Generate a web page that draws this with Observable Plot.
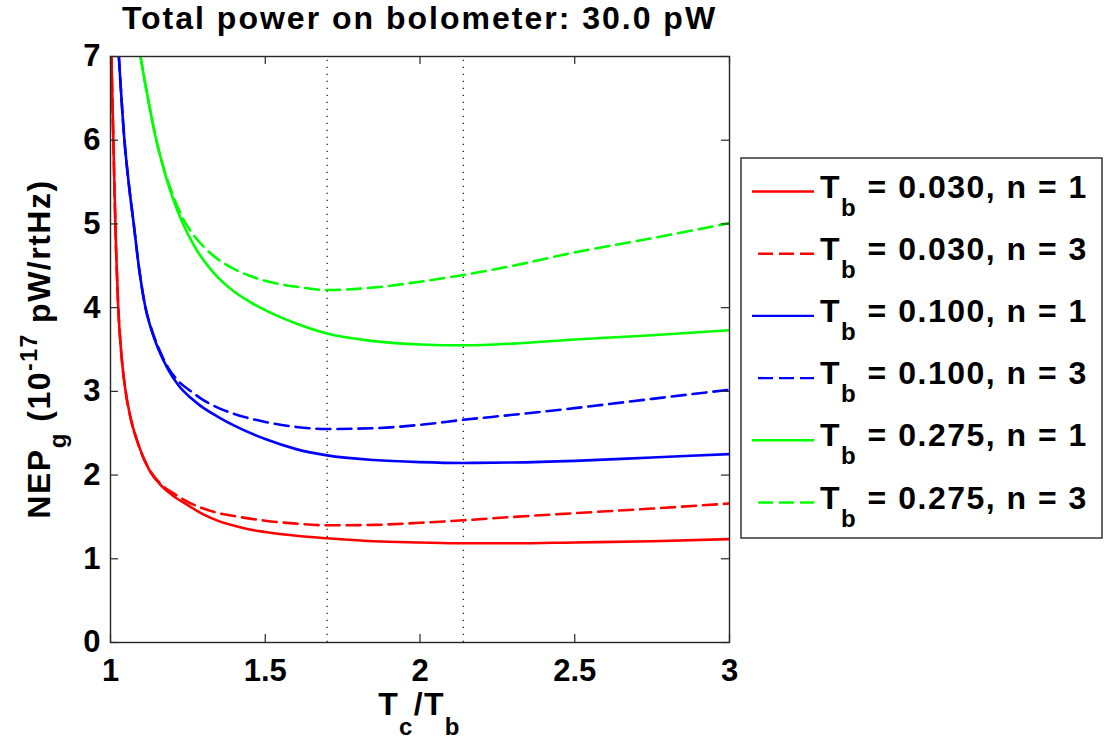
<!DOCTYPE html>
<html>
<head>
<meta charset="utf-8">
<script src="https://cdn.jsdelivr.net/npm/d3@7"></script>
<script src="https://cdn.jsdelivr.net/npm/@observablehq/plot@0.6"></script>
<style>
  html, body { margin: 0; padding: 0; background: #fff; }
  #chart svg { display: block; }
</style>
</head>
<body>
<div id="chart"></div>
<script>
// ---------- data ----------
const titleText = "Total power on bolometer: 30.0 pW";
const xTicks = [1, 1.5, 2, 2.5, 3];
const yTicks = [0, 1, 2, 3, 4, 5, 6, 7];
const dottedLines = [1.70, 2.14];

// [Tc/Tb, NEP_g]
const red_n1 = [[1.003,7.0],[1.008,6.2],[1.013,5.4],[1.018,4.7],[1.025,4.0],[1.035,3.45],[1.048,3.02],[1.065,2.68],[1.085,2.42],[1.105,2.22],[1.13,2.03],[1.16,1.89],[1.2,1.76],[1.25,1.64],[1.3,1.53],[1.35,1.45],[1.4,1.395],[1.45,1.35],[1.5,1.32],[1.6,1.275],[1.7,1.245],[1.85,1.21],[2.0,1.195],[2.14,1.185],[2.3,1.185],[2.5,1.195],[2.75,1.21],[3.0,1.235]];
const red_n3 = [[1.003,7.0],[1.008,6.2],[1.013,5.4],[1.018,4.7],[1.025,4.0],[1.035,3.45],[1.048,3.02],[1.065,2.68],[1.085,2.42],[1.105,2.22],[1.13,2.04],[1.16,1.90],[1.2,1.79],[1.25,1.68],[1.3,1.60],[1.35,1.545],[1.4,1.51],[1.45,1.48],[1.5,1.455],[1.6,1.42],[1.7,1.40],[1.85,1.405],[2.0,1.43],[2.14,1.46],[2.3,1.50],[2.5,1.545],[2.75,1.60],[3.0,1.66]];
const blue_n1 = [[1.027,7.0],[1.045,6.0],[1.06,5.45],[1.075,5.0],[1.093,4.45],[1.113,4.0],[1.13,3.76],[1.155,3.50],[1.185,3.27],[1.22,3.07],[1.26,2.92],[1.29,2.83],[1.35,2.69],[1.4,2.59],[1.5,2.43],[1.6,2.31],[1.7,2.235],[1.85,2.18],[2.0,2.155],[2.14,2.145],[2.3,2.15],[2.5,2.17],[2.75,2.21],[3.0,2.25]];
const blue_n3 = [[1.027,7.0],[1.045,6.0],[1.06,5.45],[1.075,5.0],[1.093,4.45],[1.113,4.0],[1.13,3.77],[1.155,3.52],[1.185,3.29],[1.22,3.12],[1.26,3.00],[1.29,2.92],[1.35,2.80],[1.4,2.73],[1.5,2.635],[1.6,2.575],[1.7,2.55],[1.85,2.56],[2.0,2.60],[2.14,2.66],[2.3,2.72],[2.5,2.80],[2.75,2.91],[3.0,3.02]];
const green_n1 = [[1.097,7.0],[1.11,6.72],[1.125,6.42],[1.145,6.05],[1.17,5.68],[1.2,5.32],[1.232,5.02],[1.27,4.74],[1.323,4.46],[1.35,4.35],[1.4,4.19],[1.45,4.07],[1.5,3.97],[1.6,3.81],[1.7,3.69],[1.85,3.60],[2.0,3.56],[2.14,3.55],[2.3,3.57],[2.5,3.62],[2.75,3.67],[3.0,3.73]];
const green_n3 = [[1.097,7.0],[1.11,6.72],[1.125,6.42],[1.145,6.05],[1.17,5.69],[1.2,5.36],[1.232,5.08],[1.27,4.86],[1.323,4.65],[1.35,4.57],[1.4,4.46],[1.45,4.38],[1.5,4.32],[1.6,4.25],[1.7,4.21],[1.85,4.24],[2.0,4.31],[2.14,4.39],[2.3,4.50],[2.5,4.66],[2.75,4.83],[3.0,5.01]];

const seriesData = [red_n1, red_n3, blue_n1, blue_n3, green_n1, green_n3];
const seriesTb = ["0.030", "0.030", "0.100", "0.100", "0.275", "0.275"];
const seriesN = [1, 3, 1, 3, 1, 3];
const seriesColors = ["#ff0000", "#ff0000", "#0000ff", "#0000ff", "#00ff00", "#00ff00"];

// ---------- chart ----------
const W = 1109, H = 744;
const FONT = "'Liberation Sans', Arial, Helvetica, sans-serif";
const dashPattern = "14,7";
const axisColor = "#262626";

const lineMarks = seriesData.map((d, i) =>
  Plot.line(d, {
    x: p => p[0], y: p => p[1],
    stroke: seriesColors[i], strokeWidth: 2.6,
    strokeDasharray: seriesN[i] === 3 ? dashPattern : null,
    curve: "monotone-x", clip: true
  })
);

const chart = Plot.plot({
  width: W, height: H,
  marginLeft: 110, marginRight: 380, marginTop: 56, marginBottom: 102,
  style: { fontFamily: FONT, fontSize: "31px", fontWeight: "bold", color: "black", background: "white" },
  x: { domain: [1, 3] },
  y: { domain: [0, 7] },
  marks: [
    Plot.ruleX(dottedLines, { x: d => d, y1: 0, y2: 7, stroke: "#222", strokeWidth: 1.3, strokeDasharray: "1.3,5.7" }),
    ...lineMarks,
    // inward ticks on all four sides
    Plot.ruleX(xTicks, { x: d => d, y1: 0, y2: 0.096, stroke: axisColor, strokeWidth: 1.2 }),
    Plot.ruleX(xTicks, { x: d => d, y1: 7, y2: 6.904, stroke: axisColor, strokeWidth: 1.2 }),
    Plot.ruleY(yTicks, { y: d => d, x1: 1, x2: 1.026, stroke: axisColor, strokeWidth: 1.2 }),
    Plot.ruleY(yTicks, { y: d => d, x1: 3, x2: 2.974, stroke: axisColor, strokeWidth: 1.2 }),
    Plot.frame({ stroke: axisColor, strokeWidth: 1.4 }),
    Plot.axisX({ ticks: xTicks, tickSize: 0, tickPadding: 16, tickFormat: d => String(d), label: null }),
    Plot.axisY({ ticks: yTicks, tickSize: 0, tickPadding: 10, tickFormat: d => String(d), label: null })
  ]
});

document.getElementById("chart").appendChild(chart);

// ---------- title, axis labels, legend ----------
const svg = d3.select(chart);
const plotCenterX = (110 + (W - 380)) / 2;

svg.append("text")
  .attr("x", plotCenterX).attr("y", 29)
  .attr("text-anchor", "middle")
  .attr("font-family", FONT).attr("font-weight", "bold").attr("font-size", 32)
  .attr("letter-spacing", "2px")
  .attr("fill", "black")
  .text(titleText);

// x label: Tc/Tb
const xl = svg.append("text")
  .attr("x", plotCenterX).attr("y", 715)
  .attr("text-anchor", "middle")
  .attr("font-family", FONT).attr("font-weight", "bold").attr("font-size", 32)
  .attr("letter-spacing", "1.3px")
  .attr("fill", "black");
xl.append("tspan").text("T");
xl.append("tspan").attr("dy", 20).attr("font-size", 24).text("c");
xl.append("tspan").attr("dy", -20).text("/T");
xl.append("tspan").attr("dy", 20).attr("font-size", 24).text("b");

// y label: NEP_g (10^-17 pW/rtHz)
const yl = svg.append("text")
  .attr("transform", "translate(50,349) rotate(-90)")
  .attr("text-anchor", "middle")
  .attr("font-family", FONT).attr("font-weight", "bold").attr("font-size", 32)
  .attr("letter-spacing", "1.5px")
  .attr("fill", "black");
yl.append("tspan").text("NEP");
yl.append("tspan").attr("dy", 16).attr("font-size", 24).text("g");
yl.append("tspan").attr("dy", -16).text(" (10");
yl.append("tspan").attr("dy", -13).attr("font-size", 23).text("-17");
yl.append("tspan").attr("dy", 13).text(" pW/rtHz)");

// legend
const lg = svg.append("g");
lg.append("rect")
  .attr("x", 741).attr("y", 158).attr("width", 361).attr("height", 380)
  .attr("fill", "white").attr("stroke", axisColor).attr("stroke-width", 1.4);
seriesData.forEach((d, i) => {
  const yy = 191.5 + i * 62.2;
  const dashed = seriesN[i] === 3;
  lg.append("line")
    .attr("x1", dashed ? 758 : 752).attr("x2", 814)
    .attr("y1", yy).attr("y2", yy)
    .attr("stroke", seriesColors[i]).attr("stroke-width", 2.4)
    .attr("stroke-dasharray", dashed ? "15,6" : null);
  const t = lg.append("text")
    .attr("x", 820).attr("y", yy + 6)
    .attr("text-anchor", "start")
    .attr("font-family", FONT).attr("font-weight", "bold").attr("font-size", 32)
    .attr("letter-spacing", "1.5px")
    .attr("fill", "black");
  t.append("tspan").text("T");
  t.append("tspan").attr("dy", 18).attr("font-size", 24).text("b");
  t.append("tspan").attr("dy", -18).text(` = ${seriesTb[i]}, n = ${seriesN[i]}`);
});
</script>
</body>
</html>
